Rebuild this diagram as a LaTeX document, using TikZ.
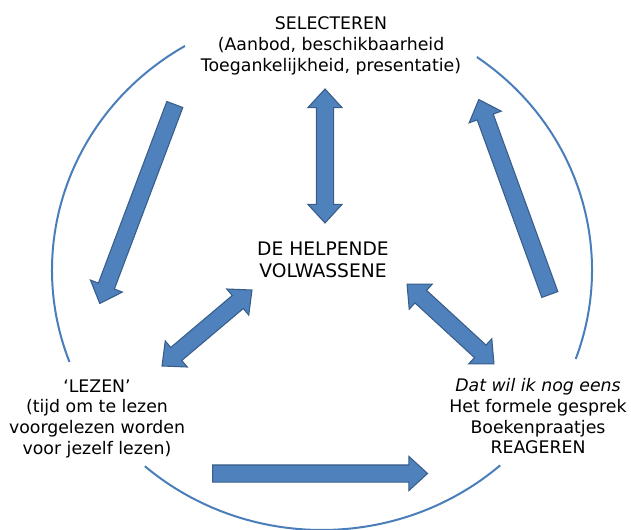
\documentclass[tikz,border=0pt]{standalone}
\usepackage{fontspec}
\setmainfont{DejaVu Sans}
\usetikzlibrary{calc, shapes.arrows}

\definecolor{arrfill}{HTML}{4F81BD}
\definecolor{arrline}{HTML}{385D8A}
\definecolor{ringcol}{HTML}{4A7EBB}

\begin{document}
\begin{tikzpicture}[x=0.75pt, y=0.75pt,
  txt/.style={align=center, inner sep=0pt, font=\fontsize{13}{15.5}\selectfont},
  blockarr/.style={fill=arrfill, draw=arrline, line width=0.8pt, inner xsep=0pt, inner ysep=6pt,
    minimum width=0pt, single arrow head extend=6.4pt, single arrow tip angle=85,
    double arrow head extend=6.4pt, double arrow tip angle=85},
  ring/.style={ringcol, line width=1.5pt}]

  \useasboundingbox (0,0) rectangle (631,529);

  % the ring, open where the texts stand
  \coordinate (ctr) at (322,259);
  \draw[ring] ($(ctr)+(120.5:270 and 260)$) arc[start angle=120.5, end angle=200.7, x radius=270, y radius=260];
  \draw[ring] ($(ctr)+(-20:270 and 260)$) arc[start angle=-20, end angle=55, x radius=270, y radius=260];
  \draw[ring] ($(ctr)+(-131:270 and 260)$) arc[start angle=-131, end angle=-48.7, x radius=270, y radius=260];

  \node[txt] (sel) at (331,483) {SELECTEREN\\(Aanbod, beschikbaarheid\\Toegankelijkheid, presentatie)};
  \node[txt, font=\fontsize{14}{16.5}\selectfont] (help) at (323,269) {DE HELPENDE\\VOLWASSENE};
  \node[txt] (lez) at (97,110.5) {`LEZEN'\\(tijd om te lezen\\voorgelezen worden\\voor jezelf lezen)};
  \node[txt] (rea) at (538,112.5) {\textit{Dat wil ik nog eens}\\Het formele gesprek\\Boekenpraatjes\\REAGEREN};

  \coordinate (selTop) at (325,440);
  \coordinate (helpTop) at (325,306);
  \coordinate (selL) at (175,425);
  \coordinate (lezL) at (100,226);
  \coordinate (reaR) at (550,234);
  \coordinate (selR) at (479,429);
  \coordinate (lezR) at (162,163);
  \coordinate (helpL) at (252,239);
  \coordinate (helpR) at (407,245);
  \coordinate (reaL) at (494,165);
  \coordinate (lezB) at (212,55.5);
  \coordinate (reaB) at (427,55.5);

  % the cycle
  \foreach \from/\to in {selL/lezL, lezB/reaB, reaR/selR}
    \path let \p1=($(\to)-(\from)$), \n1={atan2(\y1,\x1)}, \n2={veclen(\x1,\y1)} in
      node[blockarr, single arrow, anchor=tail, rotate=\n1, minimum height=\n2] at (\from) {};

  % to and from the adult
  \foreach \from/\to in {helpTop/selTop, lezR/helpL, helpR/reaL}
    \path let \p1=($(\to)-(\from)$), \n1={atan2(\y1,\x1)}, \n2={veclen(\x1,\y1)} in
      node[blockarr, double arrow, rotate=\n1, minimum height=\n2] at ($(\from)!0.5!(\to)$) {};

\end{tikzpicture}
\end{document}
